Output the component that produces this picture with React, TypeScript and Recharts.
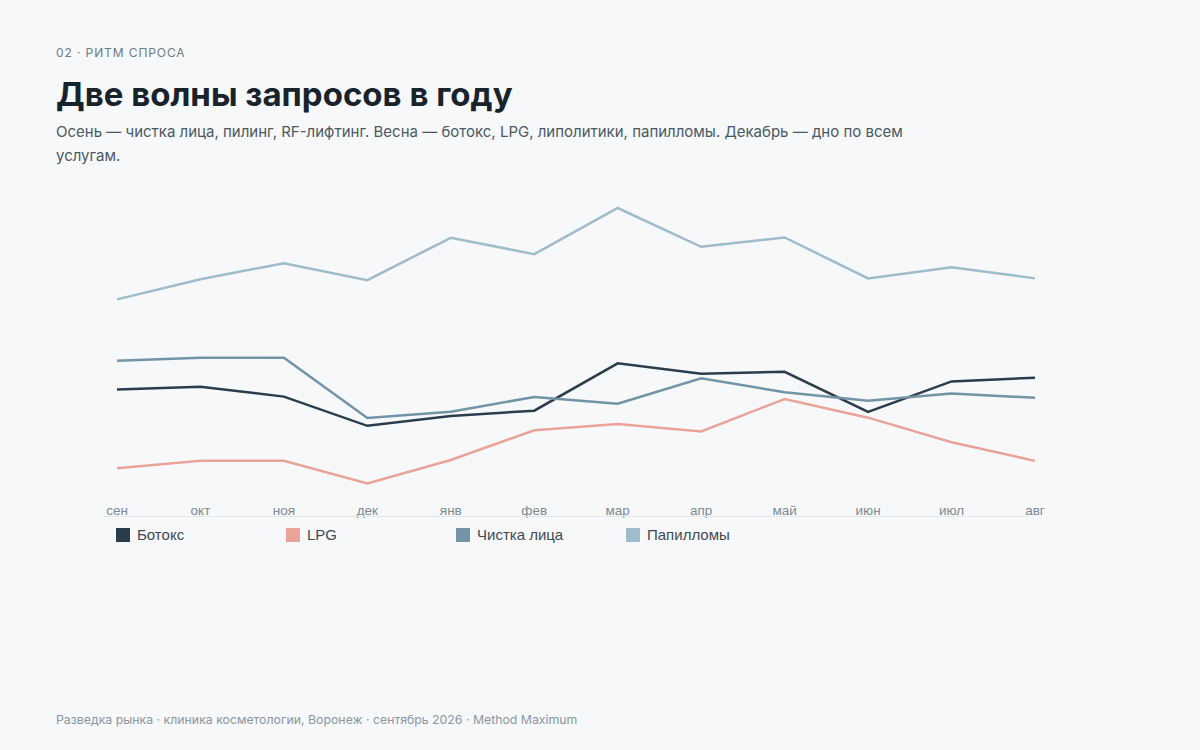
import { LineChart, Line, XAxis, YAxis } from "recharts"

// Seasonal demand index per service, Sep → Aug (peak = 100)
const MONTHS = ["сен", "окт", "ноя", "дек", "янв", "фев", "мар", "апр", "май", "июн", "июл", "авг"]
const BOTOX = [37.8, 38.8, 35.4, 25.4, 28.8, 30.6, 46.8, 43.2, 43.9, 30.2, 40.6, 41.9]
const LPG = [10.9, 13.4, 13.4, 5.7, 13.7, 23.9, 26.0, 23.5, 34.6, 28.2, 19.8, 13.4]
const FACIAL = [47.7, 48.7, 48.7, 28.1, 30.2, 35.3, 33.0, 41.7, 36.9, 34.0, 36.5, 35.0]
const PAPILLOMA = [68.7, 75.6, 81.1, 75.3, 89.8, 84.2, 100, 86.7, 89.9, 75.9, 79.7, 75.9]

const SERIES = [
  { key: "botox", name: "Ботокс", color: "#2b3d4c", values: BOTOX },
  { key: "lpg", name: "LPG", color: "#e9a399", values: LPG },
  { key: "facial", name: "Чистка лица", color: "#7393a6", values: FACIAL },
  { key: "papilloma", name: "Папилломы", color: "#a0bccb", values: PAPILLOMA },
]

const data = MONTHS.map((month, i) => {
  const row: Record<string, string | number> = { month }
  SERIES.forEach(s => { row[s.key] = s.values[i] })
  return row
})

const HEAD_FONT = "Inter, 'Noto Sans', sans-serif"
const CHART_FONT = "'Liberation Sans', Arial, sans-serif"

export default function App() {
  return (
    <div
      style={{
        position: "fixed",
        top: 0,
        left: 0,
        width: 1200,
        height: 750,
        background: "#f6f8f9",
        overflow: "hidden",
      }}
    >
      <div
        style={{
          position: "absolute", left: 56, top: 47,
          fontFamily: HEAD_FONT, fontSize: 12, lineHeight: 1,
          letterSpacing: 0.9, color: "#6f7b85",
        }}
      >
        02 · РИТМ СПРОСА
      </div>
      <div
        style={{
          position: "absolute", left: 56, top: 78,
          fontFamily: HEAD_FONT, fontSize: 33, fontWeight: 700, lineHeight: 1,
          color: "#18232c",
        }}
      >
        Две волны запросов в году
      </div>
      <div
        style={{
          position: "absolute", left: 56, top: 120, width: 870,
          fontFamily: HEAD_FONT, fontSize: 15, lineHeight: "24px", color: "#4b5964",
        }}
      >
        Осень — чистка лица, пилинг, RF-лифтинг. Весна — ботокс, LPG, липолитики, папилломы. Декабрь — дно по всем услугам.
      </div>

      <div style={{ position: "absolute", left: 0, top: 0 }}>
        <LineChart
          width={1200}
          height={540}
          data={data}
          margin={{ top: 208, right: 165, bottom: 10, left: 117 }}
        >
          <XAxis
            dataKey="month"
            height={30}
            axisLine={false}
            tickLine={false}
            tickSize={3}
            tickMargin={2}
            interval={0}
            tick={{ fill: "#7d8993", fontSize: 13.5, fontFamily: CHART_FONT }}
          />
          <YAxis hide domain={[0, 100]} />
          {SERIES.map(s => (
            <Line
              key={s.key}
              type="linear"
              dataKey={s.key}
              name={s.name}
              stroke={s.color}
              strokeWidth={2.5}
              dot={false}
              isAnimationActive={false}
            />
          ))}
        </LineChart>
      </div>

      <div
        style={{
          position: "absolute", left: 104, top: 516, width: 924,
          borderTop: "1.5px solid #e3e7ea", paddingTop: 9,
          display: "flex", fontFamily: CHART_FONT, fontSize: 15, color: "#3e4a54",
        }}
      >
        {SERIES.map(s => (
          <div key={s.key} style={{ width: 170, display: "flex", alignItems: "center", marginLeft: s.key === "botox" ? 12 : 0 }}>
            <span style={{ width: 14, height: 14, background: s.color, marginRight: 7, flex: "none" }} />
            <span>{s.name}</span>
          </div>
        ))}
      </div>

      <div
        style={{
          position: "absolute", left: 56, top: 714,
          fontFamily: HEAD_FONT, fontSize: 12.3, lineHeight: 1, color: "#8b969f",
        }}
      >
        Разведка рынка · клиника косметологии, Воронеж · сентябрь 2026 · Method Maximum
      </div>
    </div>
  )
}
